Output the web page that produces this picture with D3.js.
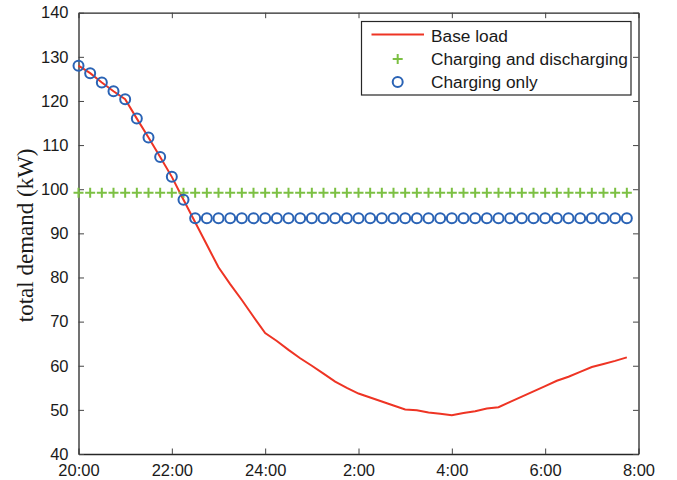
<!DOCTYPE html>
<html>
<head>
<meta charset="utf-8">
<script src="https://cdn.jsdelivr.net/npm/d3@7"></script>
<style>
  html, body { margin: 0; padding: 0; background: #fff; }
  svg { display: block; }
</style>
</head>
<body>
<svg id="chart" width="677" height="480"></svg>
<script>
// Time in hours after 20:00, sampled every 15 minutes (20:00 .. 7:45)
const hours = d3.range(48).map(i => i * 0.25);

// Base load (kW)
const baseLoad = [
  128.0, 126.3, 124.2, 122.2, 120.4, 116.0, 111.7, 107.3,
  102.8, 97.6, 92.5, 87.4, 82.3, 78.5, 74.9, 71.1,
  67.4, 65.6, 63.6, 61.7, 60.0, 58.2, 56.4, 55.0,
  53.7, 52.8, 51.9, 51.0, 50.1, 49.9, 49.4, 49.1,
  48.8, 49.3, 49.7, 50.3, 50.6, 51.8, 53.0, 54.2,
  55.4, 56.6, 57.5, 58.6, 59.7, 60.4, 61.1, 61.9
];

// Total demand with charging and discharging (kW)
const chargeDischarge = [
  99.2, 99.2, 99.2, 99.2, 99.2, 99.2, 99.2, 99.2,
  99.2, 99.2, 99.2, 99.2, 99.2, 99.2, 99.2, 99.2,
  99.2, 99.2, 99.2, 99.2, 99.2, 99.2, 99.2, 99.2,
  99.2, 99.2, 99.2, 99.2, 99.2, 99.2, 99.2, 99.2,
  99.2, 99.2, 99.2, 99.2, 99.2, 99.2, 99.2, 99.2,
  99.2, 99.2, 99.2, 99.2, 99.2, 99.2, 99.2, 99.2
];

// Total demand with charging only (kW)
const chargeOnly = [
  128.0, 126.3, 124.2, 122.2, 120.4, 116.0, 111.7, 107.3,
  102.8, 97.6, 93.4, 93.4, 93.4, 93.4, 93.4, 93.4,
  93.4, 93.4, 93.4, 93.4, 93.4, 93.4, 93.4, 93.4,
  93.4, 93.4, 93.4, 93.4, 93.4, 93.4, 93.4, 93.4,
  93.4, 93.4, 93.4, 93.4, 93.4, 93.4, 93.4, 93.4,
  93.4, 93.4, 93.4, 93.4, 93.4, 93.4, 93.4, 93.4
];

const xTickValues = [0, 2, 4, 6, 8, 10, 12];
const xTickLabels = ["20:00", "22:00", "24:00", "2:00", "4:00", "6:00", "8:00"];
const yTickValues = [40, 50, 60, 70, 80, 90, 100, 110, 120, 130, 140];

const legendLabels = ["Base load", "Charging and discharging", "Charging only"];

const colors = { base: "#ee3424", plus: "#7cc043", circle: "#2a63b5", axis: "#262626" };

const margin = { left: 78.5, right: 677 - 638.5, top: 12.7, bottom: 480 - 454 };
const W = 677, H = 480;

const svg = d3.select("#chart");

const x = d3.scaleLinear().domain([0, 12]).range([margin.left, W - margin.right]);
const y = d3.scaleLinear().domain([40, 140]).range([H - margin.bottom, margin.top]);

const tickFont = "'Liberation Sans', Arial, Helvetica, sans-serif";

// Axes (ticks point inward, mirrored on top and right)
const bottomAxis = d3.axisBottom(x).tickValues(xTickValues)
  .tickFormat((d, i) => xTickLabels[i]).tickSizeInner(-5.5).tickSizeOuter(0).tickPadding(10);
const topAxis = d3.axisTop(x).tickValues(xTickValues)
  .tickFormat("").tickSizeInner(-5.5).tickSizeOuter(0);
const leftAxis = d3.axisLeft(y).tickValues(yTickValues)
  .tickSizeInner(-5.5).tickSizeOuter(0).tickPadding(10);
const rightAxis = d3.axisRight(y).tickValues(yTickValues)
  .tickFormat("").tickSizeInner(-5.5).tickSizeOuter(0);

function styleAxis(g) {
  g.select(".domain").attr("stroke", colors.axis).attr("stroke-width", 1.3);
  g.selectAll(".tick line").attr("stroke", "#444").attr("stroke-width", 1);
  g.selectAll(".tick text").attr("fill", "#1a1a1a")
    .style("font-family", tickFont).style("font-size", "16.5px");
}

svg.append("g").attr("transform", `translate(0,${y(40)})`).call(bottomAxis).call(styleAxis)
  .selectAll(".tick text").attr("dy", "0.71em");
svg.append("g").attr("transform", `translate(0,${y(140)})`).call(topAxis).call(styleAxis);
svg.append("g").attr("transform", `translate(${x(0)},0)`).call(leftAxis).call(styleAxis);
svg.append("g").attr("transform", `translate(${x(12)},0)`).call(rightAxis).call(styleAxis);

// Y axis title
svg.append("text")
  .attr("transform", `translate(33,${(y(40) + y(140)) / 2 + 2}) rotate(-90)`)
  .attr("text-anchor", "middle")
  .style("font-family", "'Liberation Serif', 'Times New Roman', serif")
  .style("font-size", "23px")
  .attr("fill", "#1a1a1a")
  .text("total demand (kW)");

// Base load line
const line = d3.line().x((d, i) => x(hours[i])).y(d => y(d));
svg.append("path")
  .datum(baseLoad)
  .attr("d", line)
  .attr("fill", "none")
  .attr("stroke", colors.base)
  .attr("stroke-width", 2);

// Plus markers: charging and discharging
const plusSize = 5;
function plusPath(cx, cy, s) {
  return `M${cx - s},${cy}H${cx + s}M${cx},${cy - s}V${cy + s}`;
}
svg.append("g").selectAll("path")
  .data(chargeDischarge)
  .join("path")
  .attr("d", (d, i) => plusPath(x(hours[i]), y(d), plusSize))
  .attr("stroke", colors.plus)
  .attr("stroke-width", 2)
  .attr("fill", "none");

// Circle markers: charging only
svg.append("g").selectAll("circle")
  .data(chargeOnly)
  .join("circle")
  .attr("cx", (d, i) => x(hours[i]))
  .attr("cy", d => y(d))
  .attr("r", 5)
  .attr("fill", "none")
  .attr("stroke", colors.circle)
  .attr("stroke-width", 2);

// Legend
const legend = svg.append("g");
legend.append("rect")
  .attr("x", 361.5).attr("y", 21.5)
  .attr("width", 269.5).attr("height", 73.5)
  .attr("fill", "#fff")
  .attr("stroke", colors.axis)
  .attr("stroke-width", 1.2);

const rowY = [35.5, 59, 82];
legend.append("line")
  .attr("x1", 371.5).attr("x2", 424).attr("y1", rowY[0] - 1).attr("y2", rowY[0] - 1)
  .attr("stroke", colors.base).attr("stroke-width", 2);
legend.append("path")
  .attr("d", plusPath(397.7, rowY[1], plusSize))
  .attr("stroke", colors.plus).attr("stroke-width", 2);
legend.append("circle")
  .attr("cx", 397.7).attr("cy", rowY[2]).attr("r", 5)
  .attr("fill", "none").attr("stroke", colors.circle).attr("stroke-width", 2);

legend.selectAll("text.lbl")
  .data(legendLabels)
  .join("text")
  .attr("class", "lbl")
  .attr("x", 431)
  .attr("y", (d, i) => rowY[i])
  .attr("dy", "0.35em")
  .attr("fill", "#1a1a1a")
  .style("font-family", tickFont)
  .style("font-size", "17.3px")
  .text(d => d);
</script>
</body>
</html>
